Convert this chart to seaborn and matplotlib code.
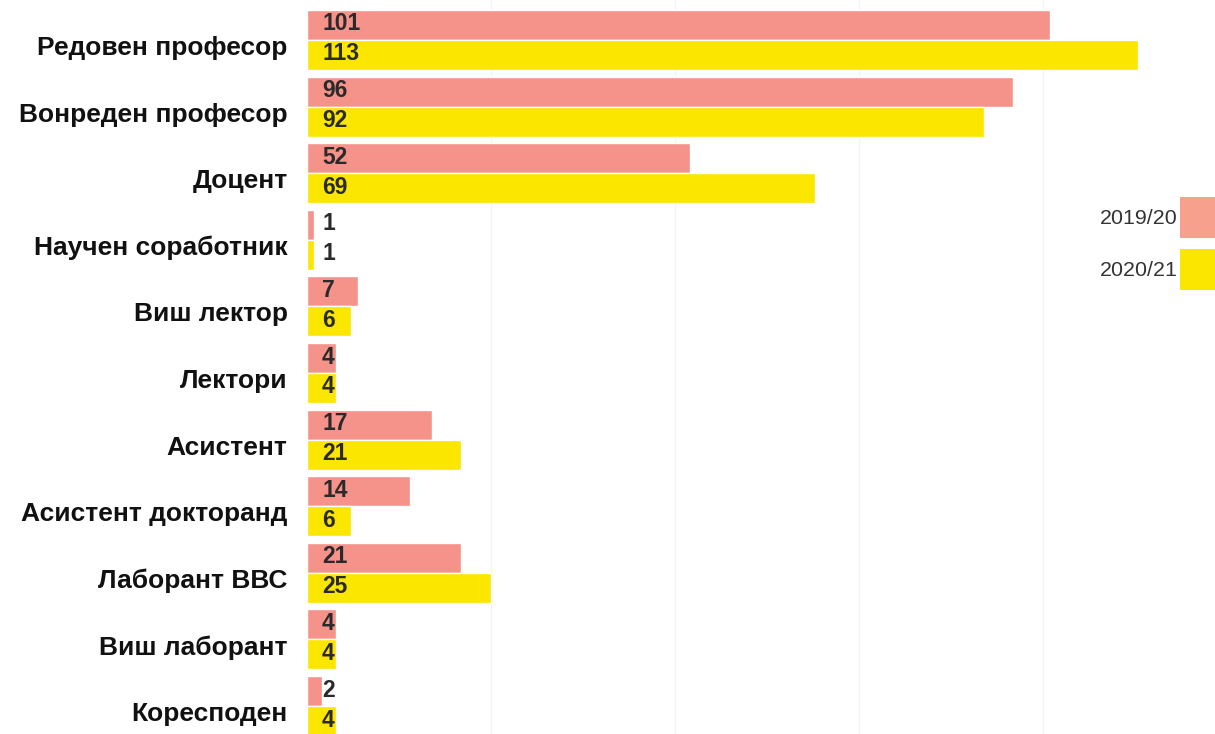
import pandas as pd
import matplotlib.pyplot as plt
import seaborn as sns
from matplotlib.patches import Patch
from matplotlib.transforms import ScaledTranslation

categories = ['Редовен професор', 'Вонреден професор', 'Доцент', 'Научен соработник',
              'Виш лектор', 'Лектори', 'Асистент', 'Асистент докторанд',
              'Лаборант ВВС', 'Виш лаборант', 'Коресподен']
years = ['2019/20', '2020/21']
vals_2019 = [101, 96, 52, 1, 7, 4, 17, 14, 21, 4, 2]
vals_2020 = [113, 92, 69, 1, 6, 4, 21, 6, 25, 4, 4]
colors = ['#f5928a', '#fbe600']

df = pd.DataFrame({
    'категорија': categories * 2,
    'година': [years[0]] * len(categories) + [years[1]] * len(categories),
    'вредност': vals_2019 + vals_2020,
})

sns.set_style('white')
plt.rcParams['font.family'] = ['Liberation Sans', 'DejaVu Sans']

fig = plt.figure(figsize=(12.15, 7.34), dpi=100)
ax = fig.add_axes([307 / 1215, 0, 846 / 1215, 1])

sns.barplot(data=df, y='категорија', x='вредност', hue='година', order=categories,
            hue_order=years, palette=colors, orient='h', width=0.9, saturation=1,
            legend=False, ax=ax)

ax.set_xlim(0, 115)
ax.set_ylim(10.42, -0.6)
ax.set_xticks([25, 50, 75, 100])
ax.xaxis.grid(True, color='#f3f3f3', linewidth=1)
ax.set_axisbelow(True)
ax.tick_params(axis='x', bottom=False, labelbottom=False)
ax.tick_params(axis='y', length=0, pad=14)
ax.set_xlabel('')
ax.set_ylabel('')
for s in ax.spines.values():
    s.set_visible(False)

for lbl in ax.get_yticklabels():
    lbl.set_fontsize(19)
    lbl.set_fontweight('bold')
    lbl.set_color('#111111')
    lbl.set_transform(lbl.get_transform() + ScaledTranslation(0, -4 / 72, fig.dpi_scale_trans))

# вредности во лентите
off = ScaledTranslation(15 / 100, 1 / 100, fig.dpi_scale_trans)
for k, vals in enumerate([vals_2019, vals_2020]):
    for i, v in enumerate(vals):
        y = i + (k - 0.5) * 0.45
        ax.text(0, y, str(v), transform=ax.transData + off, ha='left', va='center',
                fontsize=16.5, fontweight='bold', color='#2a2a2a')

handles = [Patch(facecolor=c, edgecolor='none') for c in ['#f7a08d', colors[1]]]
fig.legend(handles, years, loc='upper right', bbox_to_anchor=(1221 / 1215, 1 - 197 / 734),
           markerfirst=False, frameon=False, fontsize=15.4, handlelength=1.9,
           handleheight=2.6, handletextpad=0.12, labelspacing=0.5, borderpad=0,
           borderaxespad=0, labelcolor='#333333')

fig.savefig('out.png', dpi=100)
